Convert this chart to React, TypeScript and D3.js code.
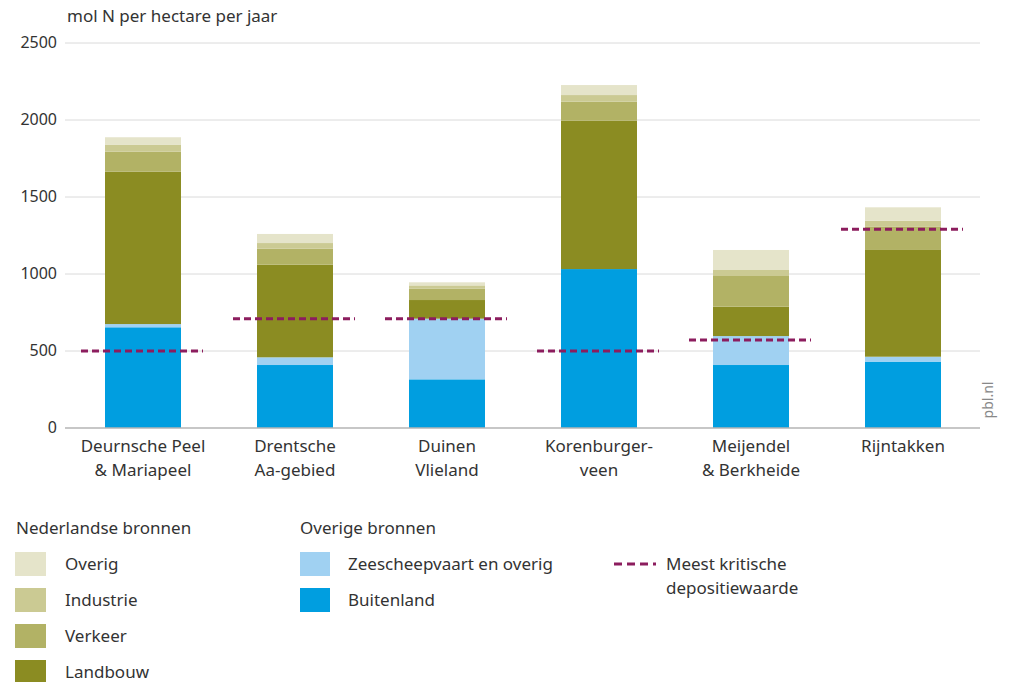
import React from "react";
import * as d3 from "d3";

const categories = ["Deurnsche Peel|& Mariapeel", "Drentsche|Aa-gebied", "Duinen|Vlieland", "Korenburger-|veen", "Meijendel|& Berkheide", "Rijntakken"];
const buitenland = [654, 409, 316, 1032, 409, 431];
const zeescheepvaart = [21, 50, 394, 0, 188, 32];
const landbouw = [990, 601, 121, 963, 191, 693];
const verkeer = [129, 104, 75, 124, 199, 150];
const industrie = [44, 37, 20, 43, 39, 40];
const overig = [50, 59, 20, 65, 130, 87];
const kritisch = [500, 710, 710, 500, 571, 1290];
const yTicks = [0, 500, 1000, 1500, 2000, 2500];

const seriesNames = ["Buitenland", "Zeescheepvaart en overig", "Landbouw", "Verkeer", "Industrie", "Overig"];
const seriesValues = [buitenland, zeescheepvaart, landbouw, verkeer, industrie, overig];
const colors: Record<string, string> = {
  "Buitenland": "#009ee0",
  "Zeescheepvaart en overig": "#a0d1f2",
  "Landbouw": "#8b8c22",
  "Verkeer": "#b2b265",
  "Industrie": "#cbca93",
  "Overig": "#e5e4ca",
};
const dashColor = "#8c1d5e";
const font = "'Noto Sans', 'Open Sans', sans-serif";
const textColor = "#333";

export default function App() {
  const W = 1013, H = 682;
  const x = d3.scaleBand<string>().domain(categories).range([67, 979]).paddingInner(0.5).paddingOuter(0.25);
  const y = d3.scaleLinear().domain([0, 2500]).range([428, 43]);

  const rows = categories.map((c, i) => {
    const r: any = { cat: c };
    seriesNames.forEach((s, j) => (r[s] = seriesValues[j][i]));
    return r;
  });
  const stacked = d3.stack<any>().keys(seriesNames)(rows);
  const bw = x.bandwidth();

  const legendLeft = ["Overig", "Industrie", "Verkeer", "Landbouw"];
  const legendRight = ["Zeescheepvaart en overig", "Buitenland"];

  return (
    <svg width={W} height={H} style={{ position: "absolute", left: 0, top: 0, background: "#fff" }} fontFamily={font}>
      <text x={67} y={22} fontSize={17} fill={textColor}>mol N per hectare per jaar</text>
      {yTicks.map((t) => (
        <g key={t}>
          {t > 0 && <line x1={65} x2={980} y1={y(t)} y2={y(t)} stroke="#dadada" strokeWidth={1} />}
          <text x={57} y={y(t) + 5} textAnchor="end" fontSize={16} fill={textColor}>{t}</text>
        </g>
      ))}
      {stacked.map((layer) => (
        <g key={layer.key} fill={colors[layer.key]}>
          {layer.map((d, i) => (
            <rect key={i} x={x(categories[i])!} width={bw} y={y(d[1])} height={Math.max(0, y(d[0]) - y(d[1]))} />
          ))}
        </g>
      ))}
      <line x1={65} x2={980} y1={y(0)} y2={y(0)} stroke="#b5b5b5" strokeWidth={1.5} />
      {kritisch.map((v, i) => (
        <line key={i} x1={x(categories[i])! - 24} x2={x(categories[i])! + bw + 22} y1={y(v)} y2={y(v)}
          stroke={dashColor} strokeWidth={3} strokeDasharray="7,4" />
      ))}
      {categories.map((c) => {
        const lines = c.split("|");
        const cx = x(c)! + bw / 2;
        return (
          <text key={c} x={cx} textAnchor="middle" fontSize={17} fill={textColor}>
            {lines.map((l, k) => (
              <tspan key={k} x={cx} y={452 + k * 24}>{l}</tspan>
            ))}
          </text>
        );
      })}
      <text x={993} y={400} fontSize={14} fill="#888" transform="rotate(-90 993 400)" textAnchor="middle">pbl.nl</text>

      <text x={16} y={534} fontSize={17} fill={textColor}>Nederlandse bronnen</text>
      {legendLeft.map((s, i) => (
        <g key={s}>
          <rect x={15} y={552 + i * 36} width={31} height={24} fill={colors[s]} />
          <text x={65} y={570 + i * 36} fontSize={17} fill={textColor}>{s}</text>
        </g>
      ))}
      <text x={300} y={534} fontSize={17} fill={textColor}>Overige bronnen</text>
      {legendRight.map((s, i) => (
        <g key={s}>
          <rect x={300} y={552 + i * 36} width={30} height={24} fill={colors[s]} />
          <text x={348} y={570 + i * 36} fontSize={17} fill={textColor}>{s}</text>
        </g>
      ))}
      <line x1={614} x2={656} y1={564} y2={564} stroke={dashColor} strokeWidth={3} strokeDasharray="8,5" />
      <text x={666} y={570} fontSize={17} fill={textColor}>
        <tspan x={666} y={570}>Meest kritische</tspan>
        <tspan x={666} y={594}>depositiewaarde</tspan>
      </text>
    </svg>
  );
}
